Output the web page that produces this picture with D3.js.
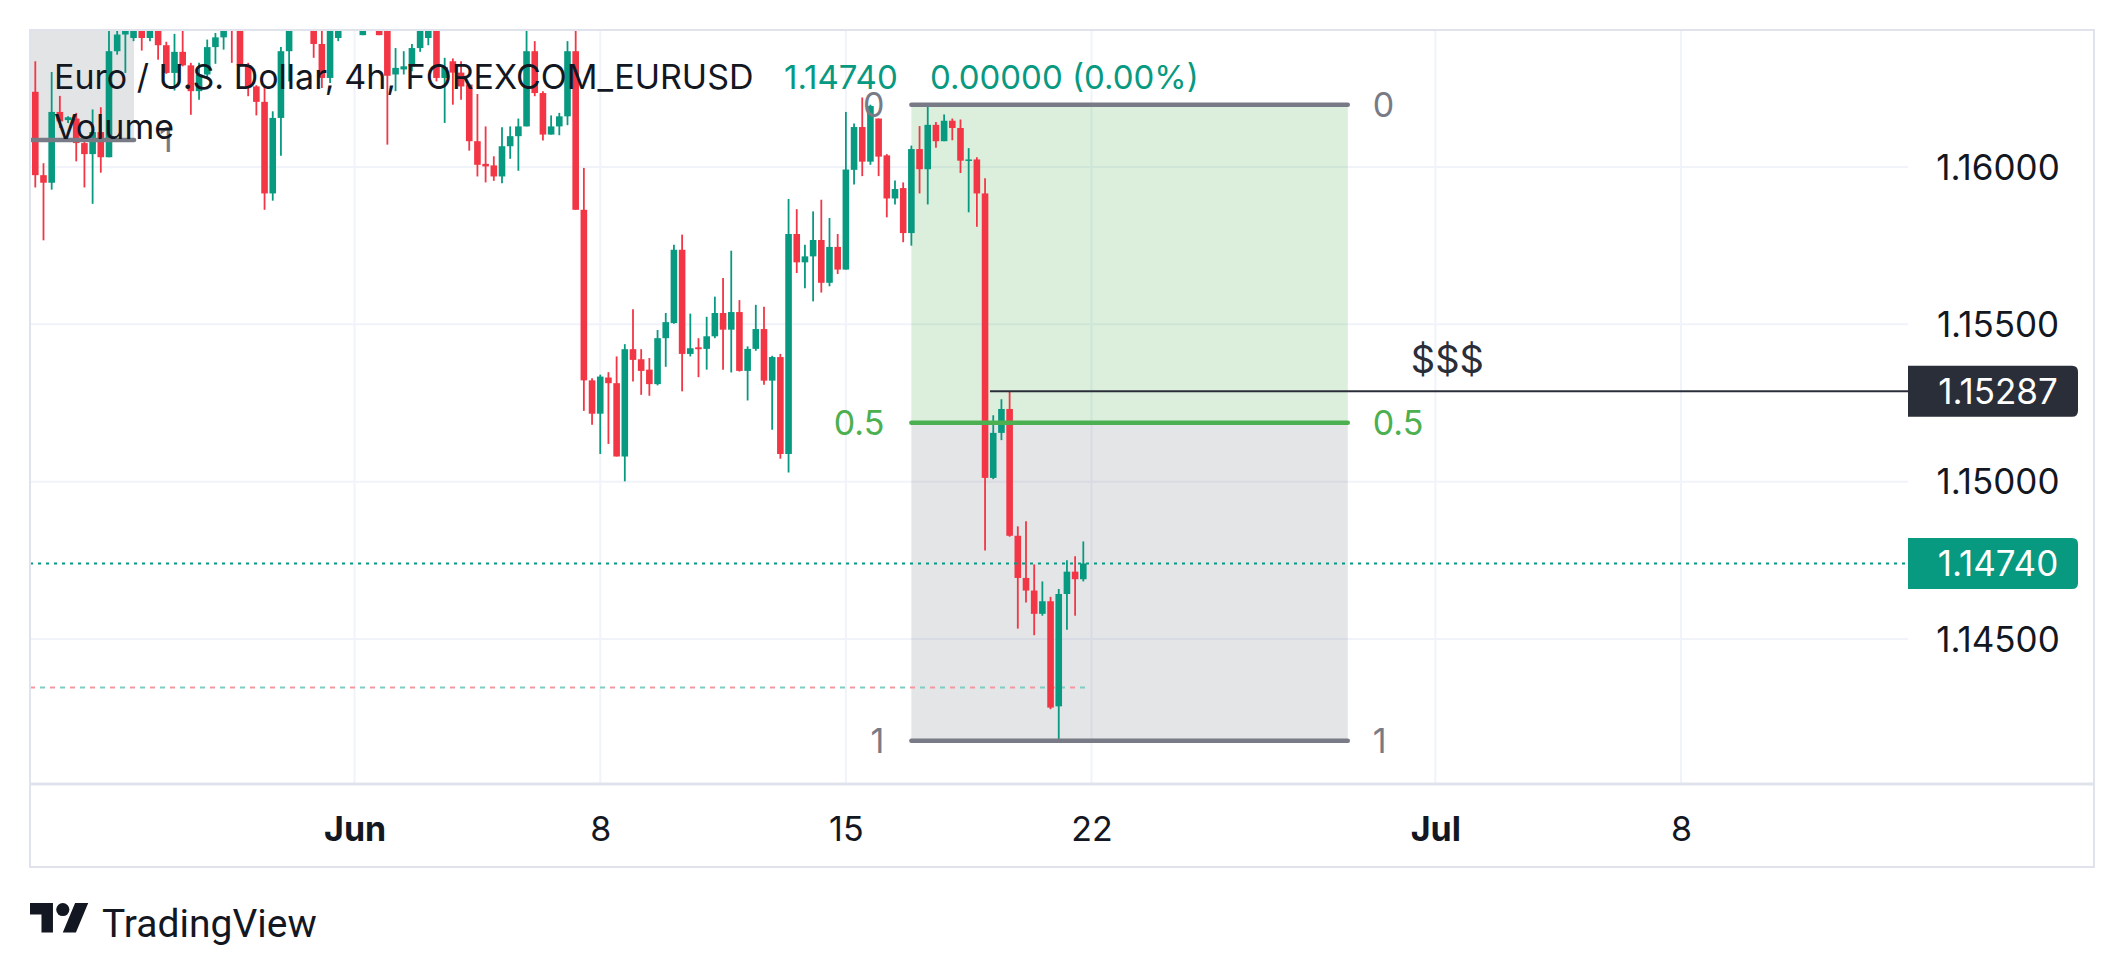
<!DOCTYPE html>
<html>
<head>
<meta charset="utf-8">
<script src="https://cdn.jsdelivr.net/npm/d3@7/dist/d3.min.js"></script>
<style>
  html, body { margin: 0; padding: 0; background: #ffffff; }
  svg { display: block; font-family: Inter, Roboto, "Noto Sans", sans-serif; }
</style>
</head>
<body>
<div id="chart"></div>
<script>
// 4h candles, EURUSD (tops clipped by the pane are guessed)
const opens = [
  1.16239, 1.15974, 1.15950, 1.16175, 1.16149, 1.16154, 1.16076, 1.16041, 1.16111, 1.16031,
  1.16368, 1.16421, 1.16410, 1.16480, 1.16410, 1.16460, 1.16387, 1.16299, 1.16366, 1.16323,
  1.16241, 1.16294, 1.16381, 1.16412, 1.16560, 1.16500, 1.16323, 1.16256, 1.16207, 1.15916,
  1.16156, 1.16368, 1.16500, 1.16550, 1.16520, 1.16391, 1.16283, 1.16410, 1.16480, 1.16520,
  1.16419, 1.16500, 1.16550, 1.16450, 1.16294, 1.16310, 1.16320, 1.16378, 1.16410, 1.16520,
  1.16283, 1.16336, 1.16300, 1.16262, 1.16082, 1.16010, 1.16005, 1.15970, 1.16066, 1.16098,
  1.16129, 1.16368, 1.16235, 1.16103, 1.16129, 1.16161, 1.16368, 1.15864, 1.15322, 1.15216,
  1.15331, 1.15313, 1.15080, 1.15421, 1.15389, 1.15356, 1.15310, 1.15456, 1.15504, 1.15737,
  1.15406, 1.15427, 1.15422, 1.15462, 1.15536, 1.15483, 1.15539, 1.15352, 1.15422, 1.15485,
  1.15321, 1.15396, 1.15088, 1.15787, 1.15697, 1.15716, 1.15768, 1.15632, 1.15746, 1.15674,
  1.15991, 1.16127, 1.16017, 1.16154, 1.16037, 1.15900, 1.15933, 1.15790, 1.16057, 1.15993,
  1.16134, 1.16082, 1.16147, 1.16124, 1.16020, 1.16024, 1.15916, 1.15012, 1.15155, 1.15231,
  1.14828, 1.14694, 1.14654, 1.14580, 1.14620, 1.14286, 1.14643, 1.14714, 1.14690
];
const highs = [
  1.16336, 1.16012, 1.16302, 1.16226, 1.16161, 1.16172, 1.16082, 1.16183, 1.16190, 1.16470,
  1.16460, 1.16520, 1.16550, 1.16520, 1.16520, 1.16500, 1.16398, 1.16423, 1.16440, 1.16331,
  1.16331, 1.16405, 1.16426, 1.16520, 1.16600, 1.16550, 1.16331, 1.16260, 1.16256, 1.16177,
  1.16381, 1.16550, 1.16600, 1.16620, 1.16560, 1.16440, 1.16500, 1.16510, 1.16580, 1.16560,
  1.16540, 1.16600, 1.16580, 1.16500, 1.16378, 1.16368, 1.16391, 1.16500, 1.16540, 1.16560,
  1.16347, 1.16345, 1.16336, 1.16262, 1.16232, 1.16129, 1.16034, 1.16126, 1.16129, 1.16154,
  1.16450, 1.16400, 1.16241, 1.16164, 1.16172, 1.16400, 1.16460, 1.15997, 1.15329, 1.15340,
  1.15348, 1.15398, 1.15437, 1.15548, 1.15421, 1.15393, 1.15482, 1.15536, 1.15753, 1.15785,
  1.15534, 1.15456, 1.15524, 1.15588, 1.15647, 1.15734, 1.15577, 1.15430, 1.15562, 1.15556,
  1.15400, 1.15406, 1.15898, 1.15866, 1.15753, 1.15859, 1.15896, 1.15838, 1.15787, 1.16175,
  1.16138, 1.16221, 1.16198, 1.16154, 1.16041, 1.15957, 1.15951, 1.16068, 1.16130, 1.16197,
  1.16143, 1.16167, 1.16154, 1.16151, 1.16060, 1.16031, 1.15964, 1.15211, 1.15262, 1.15287,
  1.14858, 1.14874, 1.14737, 1.14683, 1.14634, 1.14659, 1.14750, 1.14763, 1.14810
];
const lows = [
  1.15935, 1.15767, 1.15928, 1.16124, 1.16140, 1.16018, 1.15935, 1.15883, 1.15982, 1.16031,
  1.16357, 1.16299, 1.16400, 1.16370, 1.16400, 1.16341, 1.16296, 1.16243, 1.16320, 1.16166,
  1.16214, 1.16283, 1.16328, 1.16373, 1.16331, 1.16320, 1.16225, 1.16164, 1.15864, 1.15893,
  1.16036, 1.16272, 1.16460, 1.16470, 1.16347, 1.16251, 1.16267, 1.16400, 1.16450, 1.16460,
  1.16419, 1.16470, 1.16419, 1.16071, 1.16241, 1.16294, 1.16304, 1.16366, 1.16387, 1.16272,
  1.16140, 1.16198, 1.16214, 1.16052, 1.15970, 1.15951, 1.15956, 1.15948, 1.16026, 1.15988,
  1.16129, 1.16225, 1.16084, 1.16103, 1.16101, 1.16133, 1.15864, 1.15225, 1.15181, 1.15088,
  1.15120, 1.15080, 1.15001, 1.15318, 1.15276, 1.15273, 1.15306, 1.15365, 1.15502, 1.15287,
  1.15398, 1.15332, 1.15356, 1.15456, 1.15356, 1.15347, 1.15350, 1.15258, 1.15416, 1.15308,
  1.15165, 1.15073, 1.15029, 1.15663, 1.15615, 1.15573, 1.15601, 1.15621, 1.15660, 1.15674,
  1.15944, 1.15971, 1.16007, 1.15971, 1.15840, 1.15881, 1.15761, 1.15750, 1.15916, 1.15881,
  1.16061, 1.16082, 1.16085, 1.15981, 1.15856, 1.15810, 1.14781, 1.15008, 1.15132, 1.14825,
  1.14533, 1.14616, 1.14512, 1.14574, 1.14277, 1.14177, 1.14529, 1.14574, 1.14683
];
const closes = [
  1.15974, 1.15950, 1.16175, 1.16145, 1.16158, 1.16076, 1.16041, 1.16111, 1.16031, 1.16368,
  1.16421, 1.16480, 1.16500, 1.16410, 1.16470, 1.16387, 1.16299, 1.16366, 1.16323, 1.16241,
  1.16294, 1.16381, 1.16412, 1.16480, 1.16450, 1.16323, 1.16256, 1.16207, 1.15916, 1.16156,
  1.16368, 1.16500, 1.16550, 1.16520, 1.16391, 1.16283, 1.16460, 1.16480, 1.16520, 1.16500,
  1.16500, 1.16550, 1.16419, 1.16290, 1.16315, 1.16320, 1.16378, 1.16460, 1.16500, 1.16283,
  1.16317, 1.16300, 1.16256, 1.16082, 1.16007, 1.16002, 1.15970, 1.16066, 1.16098, 1.16129,
  1.16368, 1.16235, 1.16103, 1.16129, 1.16161, 1.16368, 1.15864, 1.15322, 1.15216, 1.15334,
  1.15313, 1.15080, 1.15421, 1.15387, 1.15352, 1.15310, 1.15456, 1.15507, 1.15737, 1.15406,
  1.15424, 1.15421, 1.15462, 1.15536, 1.15483, 1.15539, 1.15352, 1.15422, 1.15485, 1.15321,
  1.15396, 1.15088, 1.15787, 1.15697, 1.15716, 1.15768, 1.15632, 1.15746, 1.15674, 1.15992,
  1.16127, 1.16017, 1.16194, 1.16033, 1.15900, 1.15930, 1.15790, 1.16057, 1.15993, 1.16134,
  1.16082, 1.16147, 1.16124, 1.16020, 1.16024, 1.15916, 1.15012, 1.15155, 1.15231, 1.14828,
  1.14694, 1.14654, 1.14580, 1.14620, 1.14282, 1.14643, 1.14714, 1.14690, 1.14740
];

// axes
const priceTicks = [1.145, 1.150, 1.155, 1.160];
const timeTickIndex = [39, 69, 99, 129, 171, 201];
const timeTickLabels = ["Jun", "8", "15", "22", "Jul", "8"];
const timeTickBold = [true, false, false, false, true, false];

// drawings
const fibStart = 107, fibEnd = 160.3;
const fibHigh = 1.16198, fibLow = 1.14177;
const fibLevels = [0, 0.5, 1];
const fibLevelLabels = ["0", "0.5", "1"];
const prevFibEnd = 12.06, prevFibLevel1 = 1.16086;
const hLineStart = 116.6, hLinePrice = 1.15287;
const noteIndex = 168, notePrice = 1.15345, noteText = "$$$";
const lastPrice = 1.14740;
const sessionLinePrice = 1.14346, sessionLineEnd = 128.5;

const candles = opens.map((o, i) => ({ i, o, h: highs[i], l: lows[i], c: closes[i] }));

// colours
const up = "#089981", down = "#f23645";
const textCol = "#131722", grid = "#f0f3fa", border = "#e0e3eb";
const fibGrey = "#787b86", fibGreen = "#4caf50";

// layout
const W = 2124, H = 972;
const pane = { left: 30, top: 30, right: 1908, bottom: 784 };
const frameRight = 2094, frameBottom = 867;

const x = d3.scaleLinear().domain([0, 201]).range([35.3, 1681]);
const y = d3.scaleLinear().domain([1.145, 1.160]).range([639, 167]);
const bodyW = 6.6;

const svg = d3.select("#chart").append("svg")
    .attr("width", W).attr("height", H);

svg.append("rect").attr("width", W).attr("height", H).attr("fill", "#fff");

svg.append("defs").append("clipPath").attr("id", "pane")
    .append("rect")
    .attr("x", pane.left).attr("y", pane.top + 1)
    .attr("width", pane.right - pane.left).attr("height", pane.bottom - pane.top - 1);

const g = svg.append("g").attr("clip-path", "url(#pane)");

// grid
g.selectAll(".hgrid").data(priceTicks).enter().append("line")
    .attr("x1", pane.left).attr("x2", pane.right)
    .attr("y1", d => y(d)).attr("y2", d => y(d))
    .attr("stroke", grid).attr("stroke-width", 2);
g.selectAll(".vgrid").data(timeTickIndex).enter().append("line")
    .attr("x1", d => x(d)).attr("x2", d => x(d))
    .attr("y1", pane.top).attr("y2", pane.bottom)
    .attr("stroke", grid).attr("stroke-width", 2);

// older fib, mostly off the left edge
g.append("rect")
    .attr("x", pane.left).attr("y", pane.top)
    .attr("width", x(prevFibEnd) - pane.left)
    .attr("height", y(prevFibLevel1) - pane.top)
    .attr("fill", "#e3e4e6");

// fib fills
const fibPrice = lv => fibHigh - lv * (fibHigh - fibLow);
g.append("rect")
    .attr("x", x(fibStart)).attr("width", x(fibEnd) - x(fibStart))
    .attr("y", y(fibPrice(0))).attr("height", y(fibPrice(0.5)) - y(fibPrice(0)))
    .attr("fill", "rgba(76,175,80,0.2)");
g.append("rect")
    .attr("x", x(fibStart)).attr("width", x(fibEnd) - x(fibStart))
    .attr("y", y(fibPrice(0.5))).attr("height", y(fibPrice(1)) - y(fibPrice(0.5)))
    .attr("fill", "rgba(120,123,134,0.2)");

// session line (red / teal dashes)
g.append("line")
    .attr("x1", pane.left).attr("x2", x(sessionLineEnd))
    .attr("y1", y(sessionLinePrice)).attr("y2", y(sessionLinePrice))
    .attr("stroke", "#f5979f").attr("stroke-width", 2).attr("stroke-dasharray", "5 15");
g.append("line")
    .attr("x1", pane.left).attr("x2", x(sessionLineEnd))
    .attr("y1", y(sessionLinePrice)).attr("y2", y(sessionLinePrice))
    .attr("stroke", "#7fcec1").attr("stroke-width", 2)
    .attr("stroke-dasharray", "5 15").attr("stroke-dashoffset", -10);

// candles
const cg = g.selectAll(".candle").data(candles).enter().append("g");
cg.append("line")
    .attr("x1", d => x(d.i)).attr("x2", d => x(d.i))
    .attr("y1", d => y(d.h)).attr("y2", d => y(d.l))
    .attr("stroke", d => d.c >= d.o ? up : down).attr("stroke-width", 1.8);
cg.append("rect")
    .attr("x", d => x(d.i) - bodyW / 2).attr("width", bodyW)
    .attr("y", d => y(Math.max(d.o, d.c)))
    .attr("height", d => Math.max(1.5, Math.abs(y(d.o) - y(d.c))))
    .attr("fill", d => d.c >= d.o ? up : down);

// last price dotted line
g.append("line")
    .attr("x1", pane.left).attr("x2", pane.right)
    .attr("y1", y(lastPrice)).attr("y2", y(lastPrice))
    .attr("stroke", up).attr("stroke-width", 2).attr("stroke-dasharray", "3 5");

// older fib level line + label
g.append("line")
    .attr("x1", pane.left).attr("x2", x(prevFibEnd))
    .attr("y1", y(prevFibLevel1)).attr("y2", y(prevFibLevel1))
    .attr("stroke", fibGrey).attr("stroke-width", 4.5).attr("stroke-linecap", "round");
g.append("text")
    .attr("x", x(prevFibEnd) + 25).attr("y", y(prevFibLevel1))
    .attr("dy", "0.35em").attr("font-size", 34).attr("fill", fibGrey)
    .text("1");

// fib levels
fibLevels.forEach((lv, k) => {
    const col = lv === 0.5 ? fibGreen : fibGrey;
    g.append("line")
        .attr("x1", x(fibStart)).attr("x2", x(fibEnd))
        .attr("y1", y(fibPrice(lv))).attr("y2", y(fibPrice(lv)))
        .attr("stroke", col).attr("stroke-width", 4.5).attr("stroke-linecap", "round");
    g.append("text")
        .attr("x", x(fibStart) - 27).attr("y", y(fibPrice(lv)))
        .attr("dy", "0.35em").attr("text-anchor", "end")
        .attr("font-size", 34).attr("fill", col)
        .text(fibLevelLabels[k]);
    g.append("text")
        .attr("x", x(fibEnd) + 25).attr("y", y(fibPrice(lv)))
        .attr("dy", "0.35em").attr("text-anchor", "start")
        .attr("font-size", 34).attr("fill", col)
        .text(fibLevelLabels[k]);
});

// horizontal ray + note
g.append("line")
    .attr("x1", x(hLineStart)).attr("x2", pane.right)
    .attr("y1", y(hLinePrice)).attr("y2", y(hLinePrice))
    .attr("stroke", "#2a2e39").attr("stroke-width", 2);
g.append("text")
    .attr("x", x(noteIndex)).attr("y", y(notePrice))
    .attr("font-size", 38).attr("fill", "#2a2e39")
    .text(noteText);

// frame
svg.append("rect")
    .attr("x", pane.left).attr("y", pane.top)
    .attr("width", frameRight - pane.left).attr("height", frameBottom - pane.top)
    .attr("fill", "none").attr("stroke", border).attr("stroke-width", 2);
svg.append("line")
    .attr("x1", pane.left).attr("x2", frameRight)
    .attr("y1", pane.bottom).attr("y2", pane.bottom)
    .attr("stroke", border).attr("stroke-width", 3);

// price axis
const yAxis = svg.append("g")
    .attr("transform", "translate(" + pane.right + ",0)")
    .call(d3.axisRight(y).tickValues(priceTicks).tickFormat(d3.format(".5f")).tickSize(0));
yAxis.select(".domain").remove();
yAxis.selectAll("text")
    .attr("x", 90).attr("dy", "0.35em").attr("text-anchor", "middle")
    .attr("font-family", "Inter, Roboto, sans-serif").attr("font-size", 35).attr("fill", textCol);

// time axis
const xAxis = svg.append("g")
    .attr("transform", "translate(0," + pane.bottom + ")")
    .call(d3.axisBottom(x).tickValues(timeTickIndex)
        .tickFormat((d, i) => timeTickLabels[i]).tickSize(0));
xAxis.select(".domain").remove();
xAxis.selectAll("text")
    .attr("y", 57).attr("dy", 0)
    .attr("font-family", "Inter, Roboto, sans-serif").attr("font-size", 34).attr("fill", textCol)
    .attr("font-weight", (d, i) => timeTickBold[i] ? 700 : 400);

// price tags on the scale
function tag(price, fill) {
    const cy = y(price), h = 51, w = 170, r = 6, x0 = pane.right;
    svg.append("path")
        .attr("d", `M${x0},${cy - h / 2} H${x0 + w - r} Q${x0 + w},${cy - h / 2} ${x0 + w},${cy - h / 2 + r}
                    V${cy + h / 2 - r} Q${x0 + w},${cy + h / 2} ${x0 + w - r},${cy + h / 2} H${x0} Z`)
        .attr("fill", fill);
    svg.append("text")
        .attr("x", x0 + 90).attr("y", cy).attr("dy", "0.35em")
        .attr("text-anchor", "middle").attr("font-size", 35).attr("fill", "#fff")
        .text(d3.format(".5f")(price));
}
tag(hLinePrice, "#2a2e39");
tag(lastPrice, up);

// legend
const legend = svg.append("text").attr("y", 89).attr("font-size", 34);
legend.append("tspan").attr("x", 54).attr("fill", textCol)
    .text("Euro / U.S. Dollar, 4h, FOREXCOM_EURUSD");
legend.append("tspan").attr("x", 784).attr("fill", up).attr("font-size", 33)
    .text(d3.format(".5f")(lastPrice));
legend.append("tspan").attr("x", 930).attr("fill", up).attr("font-size", 33)
    .text("0.00000 (0.00%)");
svg.append("text").attr("x", 54).attr("y", 139).attr("font-size", 34)
    .attr("fill", textCol).text("Volume");

// TradingView logo
const logo = svg.append("g").attr("transform", "translate(30,896.4) scale(1.64)");
logo.append("path").attr("d", "M14 22H7V11H0V4h14v18zM28 22h-8l7.5-18h8L28 22z").attr("fill", textCol);
logo.append("circle").attr("cx", 20).attr("cy", 8).attr("r", 4).attr("fill", textCol);
svg.append("text").attr("x", 102).attr("y", 937).attr("font-size", 39)
    .attr("font-family", "Roboto, sans-serif")
    .attr("fill", textCol).text("TradingView");
</script>
</body>
</html>
